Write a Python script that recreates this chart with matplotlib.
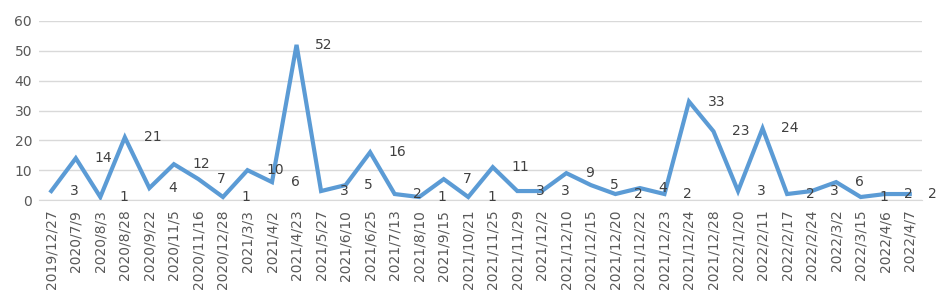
import numpy as np
import matplotlib.pyplot as plt

dates = ["2019/12/27", "2020/7/9", "2020/8/3", "2020/8/28", "2020/9/22", "2020/11/5",
         "2020/11/16", "2020/12/28", "2021/3/3", "2021/4/2", "2021/4/23", "2021/5/27",
         "2021/6/10", "2021/6/25", "2021/7/13", "2021/8/10", "2021/9/15", "2021/10/21",
         "2021/11/25", "2021/11/29", "2021/12/2", "2021/12/10", "2021/12/15", "2021/12/20",
         "2021/12/22", "2021/12/23", "2021/12/24", "2021/12/28", "2022/1/20", "2022/2/11",
         "2022/2/17", "2022/2/24", "2022/3/2", "2022/3/15", "2022/4/6", "2022/4/7"]
counts = [3, 14, 1, 21, 4, 12, 7, 1, 10, 6, 52, 3, 5, 16, 2, 1, 7, 1,
          11, 3, 3, 9, 5, 2, 4, 2, 33, 23, 3, 24, 2, 3, 6, 1, 2, 2]

fig = plt.figure(figsize=(9.41, 3.02), dpi=100)
ax = fig.add_axes([39/941, 1 - 200/302, 883/941, 179/302])

x = np.arange(len(dates))
ax.plot(x, counts, color='#5B9BD5', lw=3, solid_joinstyle='miter', zorder=3)

for i, v in enumerate(counts):
        ax.annotate(str(v), (x[i], v), xytext=(13.5, 0), textcoords='offset points',
                    ha='left', va='center', fontsize=10, color='#404040')

ax.set_xlim(-0.5, len(dates) - 0.5)
ax.set_ylim(0, 60)
ax.set_yticks(range(0, 61, 10))
ax.set_xticks(x)
ax.set_xticklabels(dates, rotation=90, fontsize=10, color='#595959')
ax.tick_params(axis='y', labelsize=10, labelcolor='#595959', length=0, pad=5)
ax.tick_params(axis='x', length=0, pad=7)
ax.grid(axis='y', color='#D9D9D9', lw=1)
ax.set_axisbelow(True)
for s in ['top', 'right', 'left']:
        ax.spines[s].set_visible(False)
ax.spines['bottom'].set_color('#D9D9D9')

fig.savefig('out.png', dpi=100)
